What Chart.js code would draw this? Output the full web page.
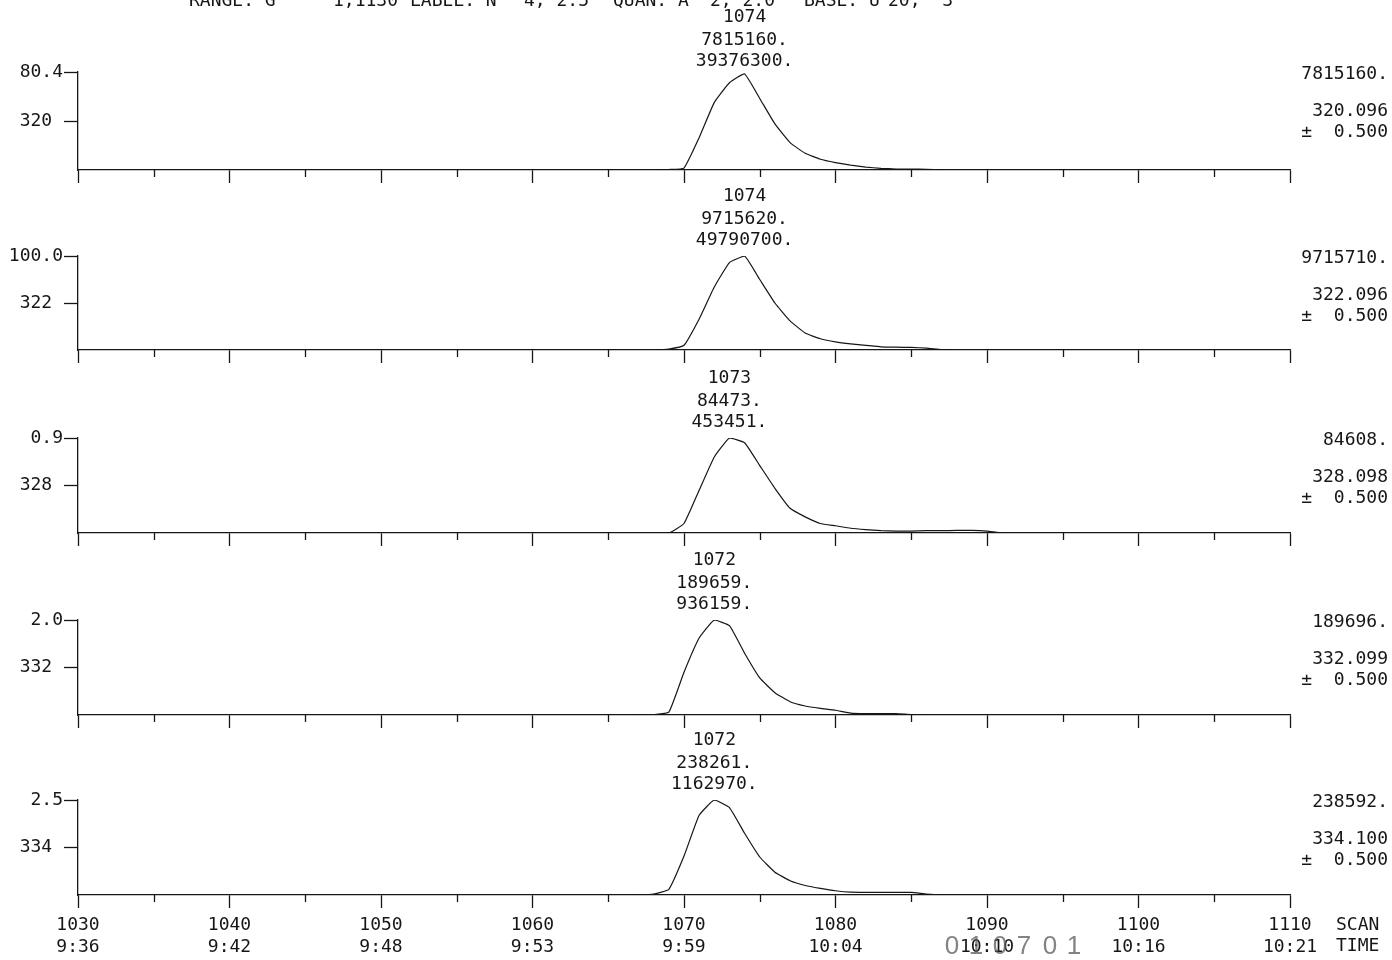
<!DOCTYPE html>
<html>
<head>
<meta charset="utf-8">
<title>SIM ion chromatograms</title>
<script src="https://cdn.jsdelivr.net/npm/chart.js@4.4.0/dist/chart.umd.min.js"></script>
<style>
  html, body { margin: 0; padding: 0; background: #fff; }
  #wrap { position: relative; width: 1392px; height: 960px; overflow: hidden; background: #fff; }
  #wrap canvas { position: absolute; left: 0; }
</style>
</head>
<body>
<div id="wrap"></div>
<script>
// bottom axis: scan numbers and their retention times
const scanTicks = [1030, 1040, 1050, 1060, 1070, 1080, 1090, 1100, 1110];
const timeTicks = ["9:36", "9:42", "9:48", "9:53", "9:59", "10:04", "10:10", "10:16", "10:21"];
const minorTicks = [1035, 1045, 1055, 1065, 1075, 1085, 1095, 1105];

// scans sampled (run ends + the region where the traces leave the baseline)
const scans = [1030,
  1066, 1067, 1068, 1069, 1070, 1071, 1072, 1073, 1074, 1075, 1076, 1077, 1078, 1079,
  1080, 1081, 1082, 1083, 1084, 1085, 1086, 1087, 1088, 1089, 1090, 1091, 1092,
  1110];

// intensity in % of each trace's full scale
const ion320 = [0, 0, 0, 0, 0.5, 2, 33, 69, 89, 98, 73, 47, 28, 17, 11, 7.6, 5, 3, 1.7, 1, 1, 0.7, 0, 0, 0, 0, 0, 0, 0];
const ion322 = [0, 0, 0, 0, 1, 5, 33, 67, 93, 100, 75, 50, 31, 18, 12, 8.6, 6.5, 5, 3.4, 3, 2.7, 2, 0.5, 0, 0, 0, 0, 0, 0];
const ion328 = [0, 0, 0, 0, 0, 10, 45, 80, 100, 95, 71, 47, 26, 17, 10, 7.6, 5, 3.5, 2.4, 2, 2, 2.4, 2.4, 2.8, 2.8, 2, 0, 0, 0];
const ion332 = [0, 0, 0, 0.4, 3, 45, 81, 100, 94, 65, 39, 23.5, 14, 9.5, 7, 5, 2, 1.4, 1.4, 1.4, 0.4, 0, 0, 0, 0, 0, 0, 0, 0];
const ion334 = [0, 0, 0, 1, 6, 41, 84, 100, 92, 65, 40, 24, 15, 10, 7, 4.5, 3, 2.8, 2.8, 2.8, 2.8, 1, 0, 0, 0, 0, 0, 0, 0];
const traces = [ion320, ion322, ion328, ion332, ion334];

// per-trace annotations
const fullScale = ["80.4", "100.0", "0.9", "2.0", "2.5"];
const massLabels = ["320", "322", "328", "332", "334"];
const peakScan = [1074, 1074, 1073, 1072, 1072];
const peakHeight = ["7815160.", "9715620.", "84473.", "189659.", "238261."];
const peakArea = ["39376300.", "49790700.", "453451.", "936159.", "1162970."];
const maxCounts = ["7815160.", "9715710.", "84608.", "189696.", "238592."];
const exactMass = ["320.096", "322.096", "328.098", "332.099", "334.100"];
const massWindow = "±  0.500";
const headerWords = ["RANGE: G", "1,1130", "LABEL: N", "4, 2.5", "QUAN: A", "2, 2.0", "BASE: U", "20,  3"];

// layout (px on the page)
const headerX = [189, 333, 410, 524, 613, 710, 804, 888];
const panelTop = [72, 256, 438, 620, 800];
const panelBase = [170, 350, 533, 715, 895];
const labelLift = [55, 60, 60, 60, 60];
const HEAD = 72;
const INK = "#161616";
const MONO = "'DejaVu Sans Mono', monospace";
const font = { family: MONO, size: 18 };

// texte et graduations secondaires dessinés par-dessus chaque panneau
const panelText = {
    id: 'panelText',
    afterDraw(chart, args, opts) {
        const i = opts.index;
        const ctx = chart.ctx;
        const xs = chart.scales.x;
        const top = chart.chartArea.top;
        const bottom = chart.chartArea.bottom;

        ctx.save();
        ctx.strokeStyle = INK;
        ctx.lineWidth = 1.3;
        minorTicks.forEach(v => {
            const px = Math.round(xs.getPixelForValue(v)) + 0.5;
            ctx.beginPath();
            ctx.moveTo(px, bottom);
            ctx.lineTo(px, bottom + 7);
            ctx.stroke();
        });

        ctx.fillStyle = INK;
        ctx.font = `18px ${MONO}`;
        ctx.textBaseline = 'middle';

        // scan / height / area above the peak
        ctx.textAlign = 'center';
        const cx = xs.getPixelForValue(peakScan[i]);
        const ly = top - labelLift[i];
        ctx.fillText(String(peakScan[i]), cx, ly);
        ctx.fillText(peakHeight[i], cx, ly + 23);
        ctx.fillText(peakArea[i], cx, ly + 44);

        // right-hand column
        ctx.textAlign = 'right';
        ctx.fillText(maxCounts[i], 1388, top + 2);
        ctx.fillText(exactMass[i], 1388, top + 39);
        ctx.fillText(massWindow, 1388, top + 60);

        if (i === 0) {
            // header line, cut by the top edge of the page
            ctx.textAlign = 'left';
            ctx.textBaseline = 'alphabetic';
            headerWords.forEach((w, k) => ctx.fillText(w, headerX[k], 6));
        }
        if (i === traces.length - 1) {
            ctx.textAlign = 'left';
            ctx.fillText("SCAN", 1336, bottom + 30);
            ctx.fillText("TIME", 1336, bottom + 51);
            // faint stamp over the 10:10 label
            ctx.fillStyle = "rgba(90,90,90,0.75)";
            ctx.font = "26px 'Liberation Sans', sans-serif";
            ctx.textAlign = 'center';
            [["0", 952], ["1", 976], ["0", 1000], ["7", 1024], ["0", 1050], ["1", 1074]].forEach(([ch, px]) => {
                ctx.fillText(ch, px, bottom + 52);
            });
        }
        ctx.restore();
    }
};

const wrap = document.getElementById('wrap');

traces.forEach((vals, i) => {
    const last = i === traces.length - 1;
    const xh = last ? 65 : 16;
    const canvas = document.createElement('canvas');
    canvas.width = 1392;
    canvas.height = HEAD + (panelBase[i] - panelTop[i]) + xh;
    canvas.style.top = (panelTop[i] - HEAD) + 'px';
    wrap.appendChild(canvas);

    new Chart(canvas, {
        type: 'line',
        data: {
            datasets: [{
                data: scans.map((s, k) => ({ x: s, y: vals[k] })),
                borderColor: INK,
                borderWidth: 1.2,
                pointRadius: 0,
                tension: 0.12,
                fill: false
            }]
        },
        options: {
            responsive: false,
            animation: false,
            layout: { padding: { top: HEAD, right: 102, left: 0, bottom: 0 } },
            plugins: {
                legend: { display: false },
                tooltip: { enabled: false },
                panelText: { index: i }
            },
            scales: {
                x: {
                    type: 'linear',
                    min: 1030,
                    max: 1110,
                    afterFit: s => { s.height = xh; },
                    afterBuildTicks: s => { s.ticks = scanTicks.map(v => ({ value: v })); },
                    ticks: {
                        display: last,
                        autoSkip: false,
                        maxRotation: 0,
                        padding: 7,
                        color: INK,
                        font: font,
                        callback: (v, idx) => [String(scanTicks[idx]), timeTicks[idx]]
                    },
                    grid: { drawOnChartArea: false, tickLength: 13, tickColor: INK, tickWidth: 1.3 },
                    border: { color: INK, width: 1.3 }
                },
                y: {
                    min: 0,
                    max: 100,
                    afterFit: s => { s.width = 78; },
                    afterBuildTicks: s => { s.ticks = [{ value: 50 }, { value: 100 }]; },
                    ticks: {
                        padding: 1,
                        color: INK,
                        font: font,
                        callback: v => (v === 100 ? fullScale[i] : massLabels[i] + ' ')
                    },
                    grid: { drawOnChartArea: false, tickLength: 14, tickColor: INK, tickWidth: 1.3 },
                    border: { color: INK, width: 1.3 }
                }
            }
        },
        plugins: [panelText]
    });
});
</script>
</body>
</html>
